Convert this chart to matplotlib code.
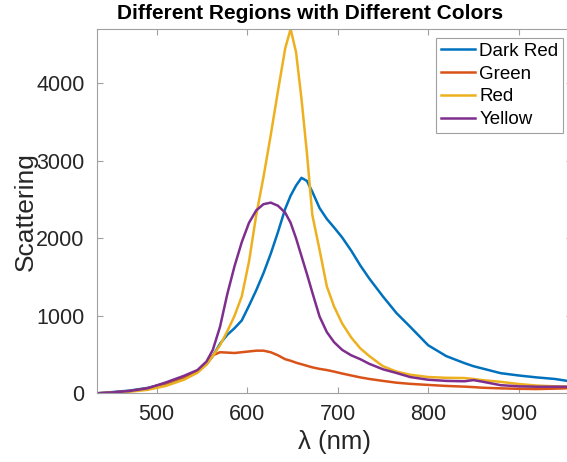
import matplotlib.pyplot as plt

plt.rcParams.update({
    'font.family': ['Liberation Sans', 'DejaVu Sans'],
    'font.size': 14,
})

# wavelength grid (nm) and scattering
wavelength = [434, 450, 470, 490, 510, 530, 545, 555, 562, 570, 578, 586, 594, 602,
              610, 618, 626, 634, 642, 648, 654, 660, 666, 672, 680, 688, 696, 705,
              715, 725, 735, 750, 765, 780, 800, 820, 840, 850, 860, 880, 900, 920,
              940, 954]

dark_red = [0, 15, 35, 70, 125, 205, 285, 375, 480, 640, 755, 840, 940, 1130,
            1330, 1550, 1800, 2080, 2380, 2550, 2680, 2780, 2740, 2600, 2390, 2250, 2140, 2010,
            1840, 1650, 1480, 1250, 1035, 860, 620, 480, 390, 350, 320, 260, 230, 205,
            185, 160]

green = [0, 10, 30, 65, 130, 210, 290, 380, 490, 530, 525, 520, 530, 540,
         550, 550, 530, 490, 440, 420, 395, 375, 355, 335, 315, 300, 280, 255,
         230, 205, 185, 160, 137, 122, 108, 95, 86, 80, 72, 64, 58, 55,
         60, 65]

red = [0, 5, 20, 45, 95, 175, 265, 370, 480, 620, 800, 1000, 1250, 1700,
       2300, 2790, 3330, 3900, 4450, 4700, 4400, 3800, 3100, 2300, 1850, 1380, 1120, 900,
       720, 580, 480, 350, 280, 240, 210, 200, 197, 185, 170, 148, 120, 100,
       90, 85]

yellow = [0, 10, 30, 65, 140, 225, 300, 410, 560, 860, 1280, 1640, 1950, 2200,
          2360, 2440, 2460, 2420, 2330, 2200, 2000, 1770, 1540, 1300, 990, 790, 660, 560,
          490, 440, 380, 310, 262, 210, 175, 160, 155, 170, 150, 105, 90, 85,
          85, 85]

series = [('Dark Red', dark_red, '#0072BD'),
          ('Green', green, '#D95319'),
          ('Red', red, '#EDB120'),
          ('Yellow', yellow, '#7E2F8E')]

fig = plt.figure(figsize=(5.67, 4.62), dpi=100)
# axes runs slightly past the right edge, as in the cropped original
ax = fig.add_axes([0.1711, 0.1487, 0.8377, 0.7885])

for name, vals, col in series:
    ax.plot(wavelength, vals, color=col, linewidth=1.8, label=name)

ax.set_xlim(434, 959)
ax.set_ylim(0, 4700)
ax.set_xticks([500, 600, 700, 800, 900])
ax.set_yticks([0, 1000, 2000, 3000, 4000])

for s in ax.spines.values():
    s.set_color('#a0a0a0')
    s.set_linewidth(0.8)
ax.tick_params(direction='in', colors='#a0a0a0', labelcolor='#262626',
               top=True, right=True, length=4, labelsize=15.5)
ax.tick_params(axis='y', pad=9)
ax.tick_params(axis='x', pad=8)

ax.set_xlabel('λ (nm)', fontsize=18.5, color='#262626', labelpad=3)
ax.set_ylabel('Scattering', fontsize=19, color='#262626', labelpad=-1)
fig.text(310 / 567, 1 - 4 / 462, 'Different Regions with Different Colors',
         fontsize=15, fontweight='bold', ha='center', va='top')

leg = ax.legend(loc='upper right', bbox_to_anchor=(563 / 567, 1 - 38 / 462),
                bbox_transform=fig.transFigure, fontsize=13.5, fancybox=False,
                framealpha=1, edgecolor='#a0a0a0', handlelength=1.8,
                handletextpad=0.25, labelspacing=0.3, borderpad=0.25,
                borderaxespad=0)
leg.get_frame().set_linewidth(0.8)

plt.savefig('out.png', dpi=100)
